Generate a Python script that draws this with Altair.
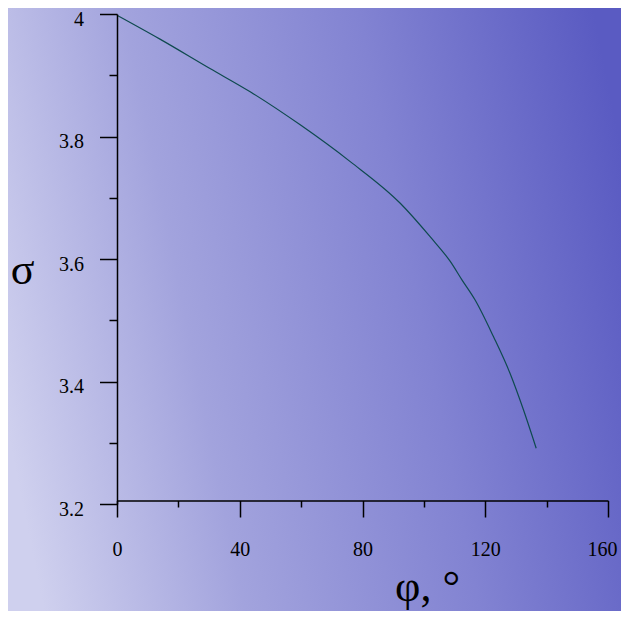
import altair as alt
import pandas as pd

# Data
phi = [0, 14.0, 30.3, 43.4, 59.7, 76.0, 92.3, 102.1, 108.6, 112.4, 116.7, 122.7, 128.1, 132.5, 136.6]
sigma = [3.998, 3.959, 3.911, 3.873, 3.819, 3.759, 3.691, 3.636, 3.596, 3.566, 3.533, 3.473, 3.413, 3.353, 3.291]

x_ticks = [0, 20, 40, 60, 80, 100, 120, 140, 160]
y_ticks = [3.2, 3.3, 3.4, 3.5, 3.6, 3.7, 3.8, 3.9, 4.0]

df = pd.DataFrame({"phi": phi, "sigma": sigma})

FONT = "Liberation Serif"

bg = alt.Chart(alt.Data(values=[{"k": 1}])).mark_rect(
    fill=alt.Gradient(
        gradient="linear",
        stops=[
            alt.GradientStop(color="#cfd0ee", offset=0),
            alt.GradientStop(color="#a2a3dd", offset=0.3),
            alt.GradientStop(color="#8283d2", offset=0.65),
            alt.GradientStop(color="#5a5bc2", offset=1),
        ],
        x1=0, y1=0.6, x2=1, y2=0.4,
    ),
    strokeWidth=0,
).encode(
    x=alt.value(-120), x2=alt.value(525),
    y=alt.value(-20), y2=alt.value(620),
)

line = alt.Chart(df).mark_line(
    color="#0f4a4f", strokeWidth=1.2, interpolate="monotone"
).encode(
    x=alt.X(
        "phi:Q",
        scale=alt.Scale(domain=[0, 160], nice=False, zero=False),
        axis=alt.Axis(
            values=x_ticks,
            title="φ, °",
            titleFont=FONT, titleFontSize=44, titleFontWeight="normal",
            titleColor="#000", titleAngle=0,
            titleX=310, titleY=100, titleAlign="center", titleBaseline="alphabetic",
            labelFont=FONT, labelFontSize=20, labelColor="#000",
            labelBaseline="middle", labelPadding=32,
            labelExpr="datum.value % 40 === 0 ? datum.label : ''",
            labelOffset=alt.condition("datum.value === 160", alt.value(-6), alt.value(0)),
            labelFlush=False, labelOverlap=False,
            tickSize=alt.condition("datum.value % 40 === 0", alt.value(16.5), alt.value(6.5)),
            tickColor="#000", tickWidth=1.5,
            domainColor="#000", domainWidth=1.5,
            grid=False, offset=-3.5, zindex=1,
        ),
    ),
    y=alt.Y(
        "sigma:Q",
        scale=alt.Scale(domain=[3.2, 4.0], nice=False, zero=False),
        axis=alt.Axis(
            values=y_ticks,
            format="~g",
            title="σ",
            titleFont=FONT, titleFontSize=44, titleFontWeight="normal",
            titleColor="#000", titleAngle=0,
            titleX=-95, titleY=269, titleAlign="center", titleBaseline="alphabetic",
            labelFont=FONT, labelFontSize=20, labelColor="#000",
            labelBaseline="middle", labelPadding=16, labelOffset=5,
            labelExpr="abs(datum.value*5 - round(datum.value*5)) < 0.01 ? datum.label : ''",
            labelFlush=False, labelOverlap=False,
            tickSize=alt.condition(
                "abs(datum.value*5 - round(datum.value*5)) < 0.01", alt.value(17.5), alt.value(8)
            ),
            tickColor="#000", tickWidth=1.5,
            domainColor="#000", domainWidth=1.5,
            grid=False, zindex=1,
        ),
    ),
)

chart = alt.layer(bg, line).properties(
    width=491,
    height=490,
    padding={"left": 109, "top": 6, "right": 13, "bottom": 107},
    autosize=alt.AutoSizeParams(type="none"),
    background="#8d8ed4",
).configure_view(stroke=None)

chart.save("out.html", embed_options={"renderer": "svg", "actions": False})
